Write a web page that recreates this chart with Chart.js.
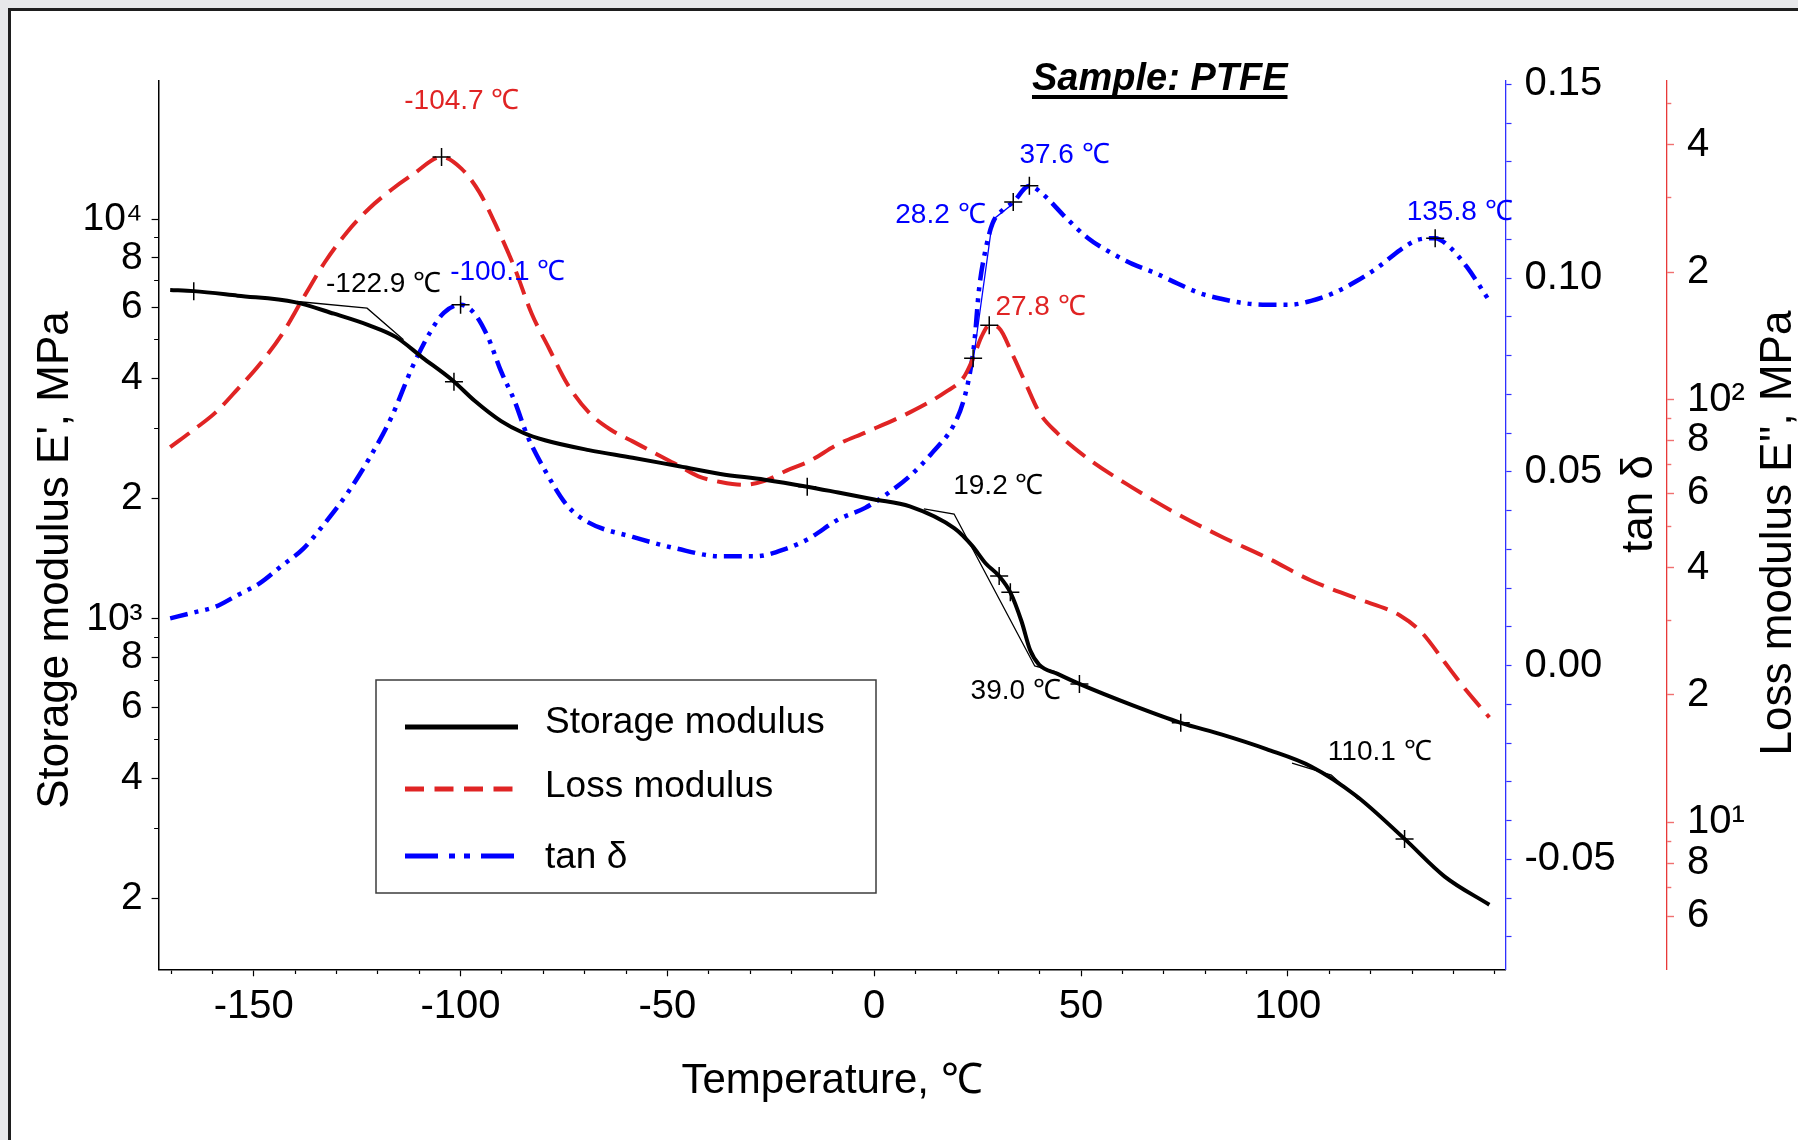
<!DOCTYPE html>
<html>
<head>
    <meta charset="utf-8">
    <title>Sample: PTFE</title>
    <script src="https://cdn.jsdelivr.net/npm/chart.js"></script>
    <style>
        html, body { margin: 0; padding: 0; background: #e7e8ea; overflow: hidden; }
        .frame {
            position: absolute; left: 8px; top: 8px; width: 1800px; height: 1140px;
            background: #fff; border-left: 3px solid #1e1e1e; border-top: 3px solid #1e1e1e;
        }
        #dma-chart { position: absolute; left: 0; top: 0; }
    </style>
</head>
<body>
    <div class="frame"></div>
    <canvas id="dma-chart" width="1798" height="1140"></canvas>

    <script>
        // ---- data ----
        const seriesNames = ['Storage modulus', 'Loss modulus', 'tan δ'];

        // storage modulus E' (MPa)
        const tempStorage = [-170.2, -164.5, -153.9, -140.1, -130.6, -122.1, -115.7, -109.3, -101.9, -96.6,
            -90.2, -84.9, -79.6, -69.0, -58.4, -47.8, -37.2, -26.5, -16.2, -8.7,
            0, 8.6, 19.4, 23.7, 26.9, 30.2, 32.9, 35.6, 37.7, 39.9,
            44.2, 49.6, 62.5, 74.1, 84.1, 94.8, 105.6, 116.4, 128.2, 137.9, 148.7];
        const storageModulus = [6646, 6602, 6430, 6197, 5797, 5423, 5073, 4511, 3948, 3512,
            3124, 2922, 2798, 2644, 2531, 2415, 2305, 2230, 2142, 2071,
            1990, 1912, 1684, 1523, 1378, 1280, 1166, 987, 835, 768,
            730, 688, 608, 550, 514, 473, 428, 362, 282, 227, 193];

        // loss modulus E'' (MPa)
        const tempLoss = [-170.2, -164.5, -159.2, -153.9, -148.6, -143.3, -138.0, -132.7, -127.4, -122.1,
            -116.8, -111.5, -104.6, -99.8, -95.5, -91.3, -87.0, -82.8, -78.6, -74.3,
            -69.0, -63.7, -58.4, -53.1, -47.8, -42.5, -37.2, -31.8, -26.5, -21.2,
            -15.9, -8.7, -2.2, 8.6, 17.2, 21.6, 23.9, 25.9, 27.8, 30.2,
            33.4, 36.6, 39.9, 44.2, 51.7, 62.5, 73.3, 84.1, 94.8, 105.6,
            116.4, 127.2, 132.5, 137.9, 143.3, 148.7];
        const lossModulus = [77.1, 84.8, 93.2, 105.8, 121.0, 142.0, 174.0, 212.0, 249.0, 283.0,
            313.0, 340.7, 374.6, 351.6, 309.8, 256.3, 205.4, 159.5, 132.0, 109.2,
            93.2, 84.8, 79.6, 74.7, 70.2, 65.8, 63.8, 62.8, 64.2, 67.9,
            71.3, 78.4, 83.5, 93.2, 104.1, 112.7, 125.1, 140.6, 149.8, 147.4,
            127.9, 109.2, 93.2, 83.4, 72.4, 61.8, 53.6, 47.3, 42.3, 37.3,
            33.9, 30.8, 28.0, 23.9, 20.4, 17.7];

        // tan delta
        const tempTan = [-170.2, -164.5, -159.2, -153.9, -148.6, -143.3, -138.0, -132.7, -127.4, -122.1,
            -116.8, -111.5, -107.2, -104.0, -100.0, -96.6, -93.4, -90.2, -87.0, -83.9,
            -79.6, -74.3, -69.0, -58.4, -47.8, -37.2, -28.7, -21.2, -15.9, -8.7,
            -2.2, 3.2, 8.6, 14.0, 19.4, 21.6, 23.2, 24.2, 25.3, 26.9,
            28.6, 31.3, 33.6, 37.5, 40.9, 46.3, 51.7, 57.1, 62.5, 67.9,
            73.3, 78.7, 84.1, 89.5, 94.8, 100.2, 105.6, 111.0, 116.4, 121.8,
            127.2, 131.5, 135.6, 139.0, 143.3, 148.7];
        const tanDelta = [0.0122, 0.0137, 0.0152, 0.0182, 0.0212, 0.0257, 0.0302, 0.0369, 0.0444, 0.0534,
            0.0639, 0.0774, 0.0863, 0.0911, 0.0931, 0.0908, 0.0848, 0.0759, 0.0684, 0.0594,
            0.0504, 0.0414, 0.0369, 0.0332, 0.0302, 0.0282, 0.0282, 0.0302, 0.0327, 0.0377,
            0.0407, 0.0444, 0.0489, 0.0549, 0.0624, 0.0684, 0.0759, 0.0834, 0.0968, 0.1073,
            0.1141, 0.1178, 0.1196, 0.1238, 0.1215, 0.1156, 0.1103, 0.1066, 0.1036, 0.1013,
            0.0986, 0.0961, 0.0946, 0.0935, 0.0931, 0.0931, 0.0941, 0.0961, 0.0991, 0.1028,
            0.1073, 0.1099, 0.1103, 0.1081, 0.1028, 0.0941];

        // "+" marks
        const storageMarkT = [-164.5, -101.6, -16.2, 30.2, 32.9, 49.6, 74.1, 128.2];
        const storageMarkV = [6602, 3921, 2142, 1280, 1166, 688, 550, 282];
        const lossMarkT = [-104.6, 23.9, 27.8];
        const lossMarkV = [374.6, 125.1, 149.8];
        const tanMarkT = [-100.0, 33.6, 37.5, 135.6];
        const tanMarkV = [0.0931, 0.1196, 0.1238, 0.1103];

        // onset tangent constructions (thin lines)
        const onsetLowT = [-139.5, -122.6, -113.8];
        const onsetLowV = [6220, 5985, 4990];
        const onsetMidT = [12.0, 19.3, 38.8, 44.0];
        const onsetMidV = [1884, 1830, 763, 738];
        const onsetHighT = [101.0, 110.5, 117.0];
        const onsetHighV = [436, 407, 354];
        const onsetTanT = [24.0, 28.6, 33.7];
        const onsetTanV = [0.0793, 0.1150, 0.1193];

        // peak / onset labels
        const peakLabels = ['-104.7 ℃', '-122.9 ℃', '-100.1 ℃', '37.6 ℃', '28.2 ℃',
            '27.8 ℃', '135.8 ℃', '19.2 ℃', '39.0 ℃', '110.1 ℃'];

        // ticks
        const tempTicks = [-170, -160, -150, -140, -130, -120, -110, -100, -90, -80, -70, -60, -50, -40, -30, -20, -10,
            0, 10, 20, 30, 40, 50, 60, 70, 80, 90, 100, 110, 120, 130, 140, 150];
        const tempTickLabels = ['', '', '-150', '', '', '', '', '-100', '', '', '', '', '-50', '', '', '', '',
            '0', '', '', '', '', '50', '', '', '', '', '100', '', '', '', '', ''];
        const storageTicks = [200, 300, 400, 500, 600, 700, 800, 900, 1000,
            2000, 3000, 4000, 5000, 6000, 7000, 8000, 9000, 10000];
        const storageTickLabels = ['2', '', '4', '', '6', '', '8', '', '10³',
            '2', '', '4', '', '6', '', '8', '', '10⁴'];
        const tanTicks = [-0.07, -0.06, -0.05, -0.04, -0.03, -0.02, -0.01, 0, 0.01, 0.02, 0.03, 0.04,
            0.05, 0.06, 0.07, 0.08, 0.09, 0.10, 0.11, 0.12, 0.13, 0.14, 0.15];
        const tanTickLabels = ['', '', '-0.05', '', '', '', '', '0.00', '', '', '', '',
            '0.05', '', '', '', '', '0.10', '', '', '', '', '0.15'];
        const lossTicks = [6, 7, 8, 9, 10, 20, 30, 40, 50, 60, 70, 80, 90, 100, 200, 300, 400, 500];
        const lossTickLabels = ['6', '', '8', '', '10¹', '2', '', '4', '', '6', '', '8', '', '10²', '2', '', '4', ''];

        // ---- styling ----
        const FONT = '"Liberation Sans", Arial, sans-serif';
        const RED = '#e02424';
        const BLUE = '#0000ff';
        Chart.defaults.font.family = FONT;
        Chart.defaults.color = '#000';

        const pts = (xs, ys) => xs.map((x, i) => ({x: x, y: ys[i]}));
        const isMinor = c => c.tick && c.tick.label === '';
        const setTicks = list => scale => { scale.ticks = list.map(v => ({value: v})); };

        // labels, title, legend and rotated axis titles
        const overlayPlugin = {
            id: 'overlay',
            afterDatasetsDraw(chart) {
                const {ctx, scales} = chart;
                const notes = [
                    {text: peakLabels[0], axis: 'yLoss', t: -99.7, v: 508, color: RED},
                    {text: peakLabels[1], axis: 'y', t: -118.6, v: 6879, color: '#000'},
                    {text: peakLabels[2], axis: 'yTan', t: -88.6, v: 0.1014, color: BLUE},
                    {text: peakLabels[3], axis: 'yTan', t: 46.0, v: 0.1318, color: BLUE},
                    {text: peakLabels[4], axis: 'yTan', t: 16.0, v: 0.1161, color: BLUE},
                    {text: peakLabels[5], axis: 'yLoss', t: 40.2, v: 165.5, color: RED},
                    {text: peakLabels[6], axis: 'yTan', t: 141.5, v: 0.1170, color: BLUE},
                    {text: peakLabels[7], axis: 'y', t: 30.0, v: 2150, color: '#000'},
                    {text: peakLabels[8], axis: 'y', t: 34.2, v: 661, color: '#000'},
                    {text: peakLabels[9], axis: 'y', t: 122.2, v: 465, color: '#000'}
                ];
                ctx.save();
                ctx.font = '28px ' + FONT;
                ctx.textAlign = 'center';
                ctx.textBaseline = 'middle';
                notes.forEach(n => {
                    ctx.fillStyle = n.color;
                    ctx.fillText(n.text, scales.x.getPixelForValue(n.t), scales[n.axis].getPixelForValue(n.v));
                });

                // sample title
                ctx.font = 'italic bold 38px ' + FONT;
                ctx.textAlign = 'left';
                ctx.textBaseline = 'alphabetic';
                ctx.fillStyle = '#000';
                const title = 'Sample: PTFE';
                ctx.fillText(title, 1032, 90);
                ctx.fillRect(1032, 95, ctx.measureText(title).width, 4);

                // legend box
                const box = {x: 376, y: 680, w: 500, h: 213};
                ctx.strokeStyle = '#3c3c3c';
                ctx.lineWidth = 1.5;
                ctx.strokeRect(box.x, box.y, box.w, box.h);
                const rows = [
                    {lineY: 47, textY: 53, color: '#000', dash: []},
                    {lineY: 109, textY: 117, color: RED, dash: [19, 10.5]},
                    {lineY: 176, textY: 188, color: BLUE, dash: [33, 11, 6, 9, 6, 11]}
                ];
                ctx.font = '37px ' + FONT;
                rows.forEach((r, i) => {
                    ctx.beginPath();
                    ctx.setLineDash(r.dash);
                    ctx.strokeStyle = r.color;
                    ctx.lineWidth = 5;
                    ctx.moveTo(box.x + 29, box.y + r.lineY);
                    ctx.lineTo(box.x + 142, box.y + r.lineY);
                    ctx.stroke();
                    ctx.setLineDash([]);
                    ctx.fillStyle = '#000';
                    ctx.fillText(seriesNames[i], box.x + 169, box.y + r.textY);
                });

                // rotated y axis titles
                ctx.font = '44px ' + FONT;
                ctx.textAlign = 'center';
                ctx.textBaseline = 'middle';
                [
                    {text: "Storage modulus E', MPa", x: 56, y: 560},
                    {text: 'tan δ', x: 1640, y: 504},
                    {text: "Loss modulus E'', MPa", x: 1779, y: 533}
                ].forEach(a => {
                    ctx.save();
                    ctx.translate(a.x, a.y);
                    ctx.rotate(-Math.PI / 2);
                    ctx.fillText(a.text, 0, 0);
                    ctx.restore();
                });
                ctx.restore();
            }
        };

        const ctx = document.getElementById('dma-chart').getContext('2d');
        const dmaChart = new Chart(ctx, {
            type: 'line',
            data: {
                datasets: [
                    // marks on top
                    { label: 'marks E\'', data: pts(storageMarkT, storageMarkV), yAxisID: 'y', showLine: false,
                      pointStyle: 'cross', pointRadius: 9, pointBorderColor: '#000', pointBorderWidth: 1.5, order: 0 },
                    { label: 'marks E\'\'', data: pts(lossMarkT, lossMarkV), yAxisID: 'yLoss', showLine: false,
                      pointStyle: 'cross', pointRadius: 9, pointBorderColor: '#000', pointBorderWidth: 1.5, order: 0 },
                    { label: 'marks tan', data: pts(tanMarkT, tanMarkV), yAxisID: 'yTan', showLine: false,
                      pointStyle: 'cross', pointRadius: 9, pointBorderColor: '#000', pointBorderWidth: 1.5, order: 0 },
                    // onset tangents
                    { label: 'onset 1', data: pts(onsetLowT, onsetLowV), yAxisID: 'y', borderColor: '#000',
                      borderWidth: 1.3, pointRadius: 0, tension: 0, order: 1 },
                    { label: 'onset 2', data: pts(onsetMidT, onsetMidV), yAxisID: 'y', borderColor: '#000',
                      borderWidth: 1.3, pointRadius: 0, tension: 0, order: 1 },
                    { label: 'onset 3', data: pts(onsetHighT, onsetHighV), yAxisID: 'y', borderColor: '#000',
                      borderWidth: 1.3, pointRadius: 0, tension: 0, order: 1 },
                    { label: 'onset tan', data: pts(onsetTanT, onsetTanV), yAxisID: 'yTan', borderColor: BLUE,
                      borderWidth: 1.3, pointRadius: 0, tension: 0, order: 1 },
                    // curves
                    { label: seriesNames[0], data: pts(tempStorage, storageModulus), yAxisID: 'y',
                      borderColor: '#000', borderWidth: 4, pointRadius: 0, cubicInterpolationMode: 'monotone', order: 2 },
                    { label: seriesNames[1], data: pts(tempLoss, lossModulus), yAxisID: 'yLoss',
                      borderColor: RED, borderWidth: 4, borderDash: [24, 10], pointRadius: 0,
                      cubicInterpolationMode: 'monotone', order: 3 },
                    { label: seriesNames[2], data: pts(tempTan, tanDelta), yAxisID: 'yTan',
                      borderColor: BLUE, borderWidth: 4.5, borderDash: [18, 7, 4, 7, 4, 7], pointRadius: 0,
                      cubicInterpolationMode: 'monotone', order: 4 }
                ]
            },
            options: {
                responsive: false,
                animation: false,
                events: [],
                layout: { padding: { left: 0, right: 0, top: 80.7, bottom: 0 } },
                plugins: { legend: { display: false }, tooltip: { enabled: false } },
                scales: {
                    x: {
                        type: 'linear', position: 'bottom', min: -173, max: 152.6,
                        afterBuildTicks: setTicks(tempTicks),
                        afterFit: s => { s.height = 170.7; },
                        border: { color: '#000', width: 1.5 },
                        grid: { drawOnChartArea: false, tickLength: 7, color: '#000', tickWidth: 1.2,
                                tickBorderDash: c => isMinor(c) ? [3.5, 20] : [] },
                        ticks: { autoSkip: false, maxRotation: 0, minRotation: 0, padding: 7,
                                 font: { size: 40 }, color: '#000',
                                 callback: (v, i) => tempTickLabels[i] },
                        title: { display: true, text: 'Temperature, ℃', font: { size: 42 }, color: '#000',
                                 padding: { top: 0, bottom: 33 } }
                    },
                    y: {
                        type: 'logarithmic', position: 'left', min: 133.1, max: 22170,
                        afterBuildTicks: setTicks(storageTicks),
                        afterFit: s => { s.width = 158.6; },
                        border: { color: '#000', width: 1.5 },
                        grid: { drawOnChartArea: false, tickLength: 7, color: '#000', tickWidth: 1.2,
                                tickBorderDash: c => isMinor(c) ? [0, 2.5, 4.5, 20] : [] },
                        ticks: { autoSkip: false, padding: 9, font: { size: 39 }, color: '#000',
                                 callback: (v, i) => storageTickLabels[i] }
                    },
                    yTan: {
                        type: 'linear', position: 'right', min: -0.07837, max: 0.15093, weight: 0,
                        afterBuildTicks: setTicks(tanTicks),
                        afterFit: s => { s.width = 161.5; },
                        border: { color: '#3030ff', width: 1.3 },
                        grid: { drawOnChartArea: false, tickLength: 6, color: '#3030ff', tickWidth: 1.2 },
                        ticks: { autoSkip: false, padding: 13, font: { size: 40 }, color: '#000',
                                 callback: (v, i) => tanTickLabels[i] }
                    },
                    yLoss: {
                        type: 'logarithmic', position: 'right', min: 4.49, max: 567.5, weight: 1,
                        afterBuildTicks: setTicks(lossTicks),
                        afterFit: s => { s.width = 131; },
                        border: { color: '#e83838', width: 1.3 },
                        grid: { drawOnChartArea: false, tickLength: 7, color: '#f07070', tickWidth: 1.4,
                                tickBorderDash: c => isMinor(c) ? [4, 20] : [] },
                        ticks: { autoSkip: false, padding: 13, font: { size: 40 }, color: '#000',
                                 callback: (v, i) => lossTickLabels[i] }
                    }
                }
            },
            plugins: [overlayPlugin]
        });
    </script>
</body>
</html>
